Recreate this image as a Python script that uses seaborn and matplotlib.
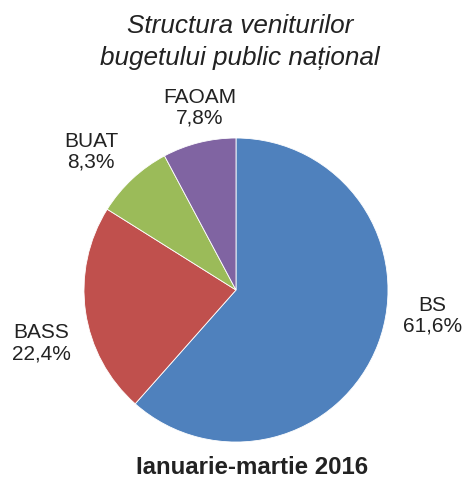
import matplotlib
matplotlib.use('Agg')
import matplotlib.pyplot as plt
import seaborn as sns

# Datele graficului
categorii = ['BS', 'BASS', 'BUAT', 'FAOAM']
ponderi = [61.6, 22.4, 8.3, 7.8]
etichete_valori = ['61,6%', '22,4%', '8,3%', '7,8%']

sns.set_theme(style='white')
plt.rcParams['font.family'] = ['Liberation Sans', 'DejaVu Sans']

culori = ['#4F81BD', '#C0504D', '#9BBB59', '#8064A2']

fig = plt.figure(figsize=(4.64, 4.88), dpi=100)
ax = fig.add_axes([0.5086 - 0.3276, 0.4057 - 0.3115, 0.6552, 0.6230])

ax.pie(ponderi, colors=culori, startangle=90, counterclock=False, radius=1,
       wedgeprops={'edgecolor': 'white', 'linewidth': 0.6})
ax.set_xlim(-1, 1)
ax.set_ylim(-1, 1)
ax.set_aspect('auto')

# pozitiile etichetelor (in unitati de raza)
pozitii = [(1.293, -0.17), (-1.283, -0.35), (-0.954, 0.91), (-0.237, 1.20)]
for cat, val, (px, py) in zip(categorii, etichete_valori, pozitii):
    ax.text(px, py, f'{cat}\n{val}', ha='center', va='center', fontsize=15,
            color='#222222', linespacing=1.12, clip_on=False)

fig.text(0.517, 0.947, 'Structura veniturilor', ha='center', va='center',
         fontsize=18.8, style='italic', color='#222222')
fig.text(0.517, 0.882, 'bugetului public național', ha='center', va='center',
         fontsize=18.8, style='italic', color='#222222')
fig.text(0.543, 0.043, 'Ianuarie-martie 2016', ha='center', va='center',
         fontsize=17.3, fontweight='bold', color='#222222')

fig.savefig('out.png', dpi=100)
